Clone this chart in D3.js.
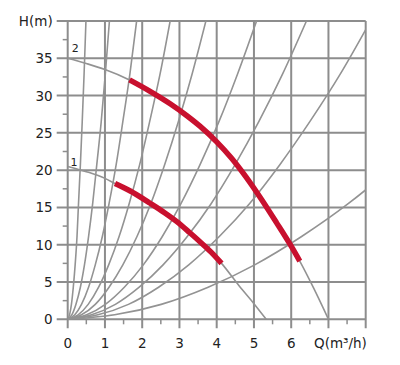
<!DOCTYPE html>
<html>
<head>
<meta charset="utf-8">
<script src="https://cdn.jsdelivr.net/npm/d3@7"></script>
<style>
  html, body { margin: 0; padding: 0; background: #ffffff; }
  svg { display: block; }
  text { font-family: "DejaVu Sans", Verdana, sans-serif; fill: #222; }
</style>
</head>
<body>
<script>
// ---------- data ----------
const xMajor = [0, 1, 2, 3, 4, 5, 6, 7, 8];
const xLabels = ["0", "1", "2", "3", "4", "5", "6", "Q(m³/h)", ""];
const xMinor = [0.5, 1.5, 2.5, 3.5, 4.5, 5.5, 6.5, 7.5];
const yMajor = [0, 5, 10, 15, 20, 25, 30, 35, 40];
const yLabels = ["0", "5", "10", "15", "20", "25", "30", "35", "H(m)"];
const yMinor = [2.5, 7.5, 12.5, 17.5, 22.5, 27.5, 32.5, 37.5];

// pump curves (Q in m³/h, H in m)
const pump2Q = [0, 0.5, 1.0, 1.66, 2.2, 2.75, 3.2, 3.55, 4.0, 4.4, 4.8, 5.2, 5.6, 6.0, 6.23, 6.6, 7.0];
const pump2H = [35, 34.3, 33.5, 32.1, 30.6, 28.9, 27.3, 25.9, 23.8, 21.6, 19.0, 16.1, 13.0, 9.8, 7.8, 4.2, 0];
const pump1Q = [0, 0.5, 1.0, 1.27, 1.68, 2.2, 2.6, 2.93, 3.28, 3.55, 3.85, 4.13, 4.6, 5.0, 5.33];
const pump1H = [20.5, 19.8, 18.9, 18.2, 17.2, 15.6, 14.3, 13.1, 11.6, 10.4, 9.0, 7.5, 4.5, 2.1, 0];
const redRange2 = [1.66, 6.23];
const redRange1 = [1.27, 4.13];
const curveLabels = ["2", "1"];
const curveLabelQ = [0.2, 0.17];
const curveLabelH = [36.4, 21.1];

// system curves: flow at each listed head
const systemHeads = [0, 0.6, 2.0, 4.3, 7.3, 11.1, 15.5, 20.7, 26.5, 32.9, 40];
const systemQ = [
  [0, 0.05, 0.10, 0.15, 0.20, 0.25, 0.29, 0.34, 0.39, 0.44, 0.49],
  [0, 0.11, 0.22, 0.34, 0.45, 0.56, 0.67, 0.78, 0.90, 1.01, 1.12],
  [0, 0.19, 0.37, 0.56, 0.74, 0.93, 1.11, 1.30, 1.48, 1.67, 1.85],
  [0, 0.28, 0.55, 0.83, 1.10, 1.38, 1.65, 1.93, 2.20, 2.48, 2.75],
  [0, 0.37, 0.74, 1.11, 1.48, 1.86, 2.23, 2.60, 2.97, 3.34, 3.71],
  [0, 0.51, 1.01, 1.52, 2.03, 2.54, 3.04, 3.55, 4.06, 4.56, 5.07],
  [0, 0.64, 1.28, 1.92, 2.56, 3.21, 3.85, 4.49, 5.13, 5.77, 6.41],
  [0, 0.81, 1.63, 2.44, 3.25, 4.07, 4.88, 5.69, 6.50, 7.32, 8.13],
  [0, 1.26, 2.51, 3.77, 5.02, 6.28, 7.53, 8.79, 10.04, 11.30, 12.55]
];

// ---------- chart ----------
const W = 400, H = 365;
const mLeft = 67.7, mRight = 365.7, mTop = 21, mBottom = 319.3;
const x = d3.scaleLinear().domain([0, 8]).range([mLeft, mRight]);
const y = d3.scaleLinear().domain([0, 40]).range([mBottom, mTop]);

const svg = d3.select("body").append("svg").attr("width", W).attr("height", H);

const gridColor = "#8d8d8d";
const curveColor = "#939393";

svg.append("clipPath").attr("id", "plot")
  .append("rect").attr("x", mLeft).attr("y", mTop)
  .attr("width", mRight - mLeft).attr("height", mBottom - mTop);

// grid + major ticks
svg.append("g").selectAll("line").data(xMajor).join("line")
  .attr("x1", d => x(d)).attr("x2", d => x(d))
  .attr("y1", y(40)).attr("y2", mBottom + 9)
  .attr("stroke", gridColor).attr("stroke-width", 2);
svg.append("g").selectAll("line").data(yMajor).join("line")
  .attr("y1", d => y(d)).attr("y2", d => y(d))
  .attr("x1", mLeft - 11).attr("x2", x(8))
  .attr("stroke", gridColor).attr("stroke-width", 2);
// minor ticks
svg.append("g").selectAll("line").data(xMinor).join("line")
  .attr("x1", d => x(d)).attr("x2", d => x(d))
  .attr("y1", mBottom).attr("y2", mBottom + 5)
  .attr("stroke", gridColor).attr("stroke-width", 1.5);
svg.append("g").selectAll("line").data(yMinor).join("line")
  .attr("y1", d => y(d)).attr("y2", d => y(d))
  .attr("x1", mLeft - 5).attr("x2", mLeft)
  .attr("stroke", gridColor).attr("stroke-width", 1.5);

// labels
svg.append("g").selectAll("text").data(xMajor).join("text")
  .attr("x", (d, i) => x(d) + (i === 7 ? 12 : 0))
  .attr("y", 348)
  .attr("text-anchor", "middle")
  .attr("font-size", "13.5px")
  .text((d, i) => xLabels[i]);
svg.append("g").selectAll("text").data(yMajor).join("text")
  .attr("x", mLeft - 15)
  .attr("y", d => y(d) + 5)
  .attr("text-anchor", "end")
  .attr("font-size", "13.5px")
  .text((d, i) => yLabels[i]);

const line = d3.line().x(d => x(d[0])).y(d => y(d[1])).curve(d3.curveMonotoneX);
const plotG = svg.append("g").attr("clip-path", "url(#plot)");

// system curves
systemQ.forEach(qs => {
  const pts = qs.map((q, i) => [q, systemHeads[i]]);
  plotG.append("path").attr("d", line(pts))
    .attr("fill", "none").attr("stroke", curveColor).attr("stroke-width", 1.6);
});

// pump curves
const p2 = pump2Q.map((q, i) => [q, pump2H[i]]);
const p1 = pump1Q.map((q, i) => [q, pump1H[i]]);
[p2, p1].forEach(pts => {
  plotG.append("path").attr("d", line(pts))
    .attr("fill", "none").attr("stroke", curveColor).attr("stroke-width", 1.6);
});
[[p2, redRange2], [p1, redRange1]].forEach(([pts, r]) => {
  const sub = pts.filter(p => p[0] >= r[0] - 1e-9 && p[0] <= r[1] + 1e-9);
  plotG.append("path").attr("d", line(sub))
    .attr("fill", "none").attr("stroke", "#c8102e").attr("stroke-width", 5.5);
});

svg.append("g").selectAll("text").data(curveLabels).join("text")
  .attr("x", (d, i) => x(curveLabelQ[i]))
  .attr("y", (d, i) => y(curveLabelH[i]) + 4)
  .attr("text-anchor", "middle")
  .attr("font-size", "11px")
  .text(d => d);
</script>
</body>
</html>
